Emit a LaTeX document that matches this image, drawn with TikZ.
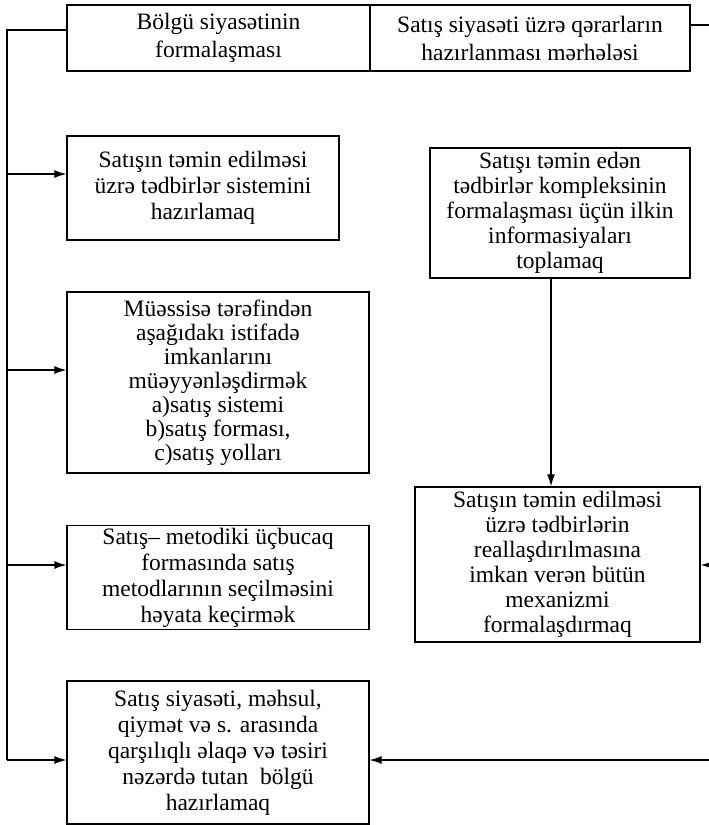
\documentclass[tikz,border=0pt]{standalone}
\usepackage{fontspec}
\setmainfont{Liberation Serif}
\usetikzlibrary{arrows.meta, positioning, calc}

\begin{document}
\begin{tikzpicture}[x=1pt, y=-1pt, >={Latex[length=12pt,width=8pt]},
    box/.style={draw, line width=1.3pt, align=center, inner sep=2pt,
        font=\fontsize{23.5}{26}\selectfont},
    link/.style={line width=1.3pt}]
\useasboundingbox (0,0) rectangle (709,825);

% Top row
\node[box, font=\fontsize{23.5}{28}\selectfont, minimum width=303pt, minimum height=66pt] (TL) at (218.5,38)
    {Bölgü siyasətinin\\formalaşması};
\node[box, font=\fontsize{23.5}{28}\selectfont, minimum width=320pt, minimum height=66pt] (TR) at (530,38)
    {Satış siyasəti üzrə qərarların\\hazırlanması mərhələsi};

% Left column
\node[box, minimum width=272pt, minimum height=104pt] (L1) at (203,188)
    {Satışın təmin edilməsi\\üzrə tədbirlər sistemini\\hazırlamaq};
\node[box, font=\fontsize{23.5}{24}\selectfont, minimum width=302pt, minimum height=181pt] (L2) at (218,382.5)
    {Müəssisə tərəfindən\\aşağıdakı istifadə\\imkanlarını\\müəyyənləşdirmək\\a)satış sistemi\\b)satış forması,\\c)satış yolları};
\node[box, minimum width=302pt, minimum height=103pt] (L3) at (218,577.5)
    {Satış-- metodiki üçbucaq\\formasında satış\\metodlarının seçilməsini\\həyata keçirmək};
\node[box, minimum width=302pt, minimum height=143pt] (L4) at (218,752.5)
    {Satış siyasəti, məhsul,\\qiymət və s. arasında\\qarşılıqlı əlaqə və təsiri\\nəzərdə tutan\ \ bölgü\\hazırlamaq};

% Right column
\node[box, font=\fontsize{23.5}{25}\selectfont, minimum width=260pt, minimum height=130pt] (R1) at (560,213)
    {Satışı təmin edən\\tədbirlər kompleksinin\\formalaşması üçün ilkin\\informasiyaları\\toplamaq};
\node[box, font=\fontsize{23.5}{25}\selectfont, minimum width=285pt, minimum height=155pt] (R2) at (557.5,564.5)
    {Satışın təmin edilməsi\\üzrə tədbirlərin\\reallaşdırılmasına\\imkan verən bütün\\mexanizmi\\formalaşdırmaq};

% Left bus with arrows
\coordinate (busTop) at (7,30);
\foreach \name/\y in {L1/174, L2/370, L3/565, L4/760} {
    \coordinate (bus\name) at (7,\y);
    \draw[link, ->] (bus\name) -- (bus\name -| \name.west);
}
\draw[link] (TL.west |- busTop) -- (busTop) -- (busL4);

% Right bus (runs along the cut edge)
\coordinate (rTop) at (712,25);
\coordinate (rMid) at (712,565);
\coordinate (rBot) at (712,760);
\draw[link] (TR.east |- rTop) -- (rTop) -- (rBot);
\draw[link, ->] (rMid) -- (rMid -| R2.east);
\draw[link, ->] (rBot) -- (rBot -| L4.east);

% Down arrow
\draw[link, ->] ($(R1.south)+(-9,0)$) -- ($(R1.south |- R2.north)+(-9,0)$);
\end{tikzpicture}
\end{document}
